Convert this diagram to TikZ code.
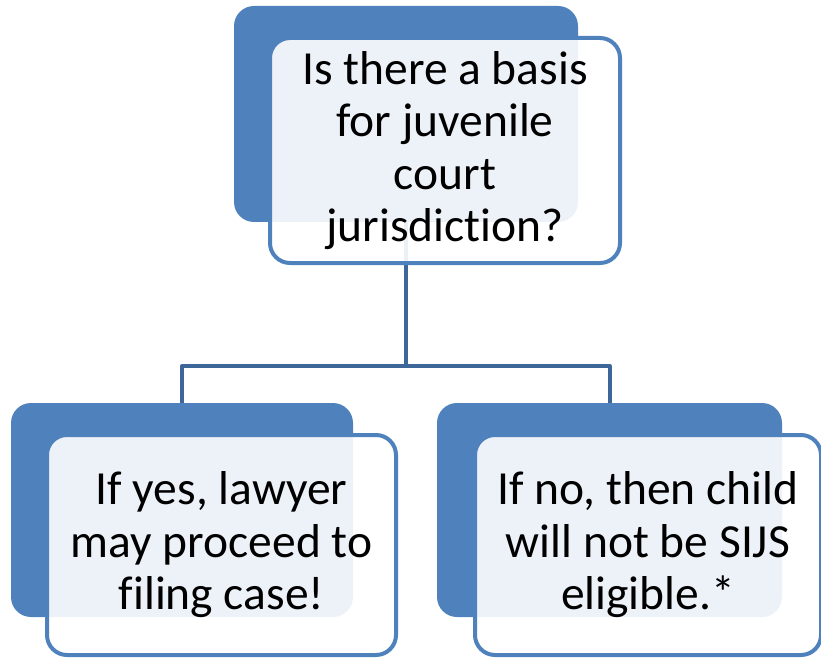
\documentclass[tikz,border=0pt]{standalone}
\usepackage{fontspec}
\setmainfont{Carlito}[Ligatures=NoCommon]
\definecolor{boxblue}{HTML}{4F81BD}
\definecolor{linkblue}{HTML}{3D6699}
\begin{document}
\begin{tikzpicture}[
	x=1pt,y=1pt,
	line join=round,
	back/.style={fill=boxblue,draw=none,rounded corners=20pt,minimum width=344pt,minimum height=216pt},
	front/.style={draw=boxblue,line width=4pt,fill=white,fill opacity=0.9,text opacity=1,rounded corners=20pt,
		minimum width=350pt,minimum height=221pt,align=center,font=\fontsize{47.5}{52.5}\selectfont},
	link/.style={draw=linkblue,line width=4pt}
	]
	\useasboundingbox (0,0) rectangle (821,657);
	% question
	\node[back] (qback) at (406,543) {};
	% answers
	\node[back,minimum width=342pt,minimum height=214pt] (yesback) at (182,147) {};
	\node[back,minimum width=345pt,minimum height=214pt] (noback) at (609.5,147) {};
	\coordinate (split) at (406,291);
	\draw[link] (qback.south) -- (split);
	\draw[link] (split) -| (yesback.north);
	\draw[link] (split) -| (noback.north);
	\node[front,minimum height=225pt] (q) at (445,506.5) {Is there a basis\\for juvenile\\court\\jurisdiction?};
	\node[front,minimum width=349pt,minimum height=220pt] (yes) at (221.5,112) {If yes, lawyer\\may proceed to\\filing case!};
	\node[front,minimum width=346pt,minimum height=220pt] (no) at (648,112) {If no, then child\\will not be SIJS\\eligible.*};
\end{tikzpicture}
\end{document}
